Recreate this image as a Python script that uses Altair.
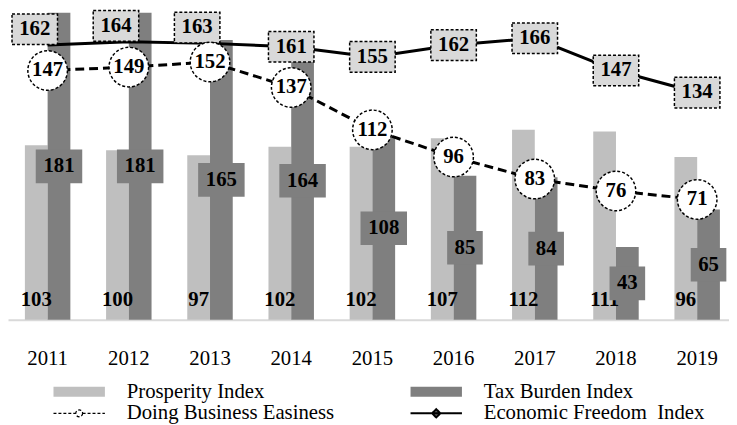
import altair as alt
import pandas as pd

years = ["2011", "2012", "2013", "2014", "2015", "2016", "2017", "2018", "2019"]
prosperity = [103, 100, 97, 102, 102, 107, 112, 111, 96]
tax_burden = [181, 181, 165, 164, 108, 85, 84, 43, 65]
doing_business = [147, 149, 152, 137, 112, 96, 83, 76, 71]
econ_freedom = [162, 164, 163, 161, 155, 162, 166, 147, 134]

P = "Prosperity Index"
T = "Tax Burden Index"
D = "Doing Business Easiness"
E = "Economic Freedom\u00a0 Index"
series_order = [P, T, D, E]
top_years = ["2011", "2012", "2013"]

FONT = "Liberation Serif"
LIGHT = "#bfbfbf"
DARK = "#7f7f7f"
BOXFILL = "#d9d9d9"

bars_df = pd.DataFrame(
    {"year": years * 2,
     "series": [P] * len(years) + [T] * len(years),
     "value": prosperity + tax_burden}
)
pros_df = pd.DataFrame({"year": years, "series": P, "value": prosperity})
tax_df = pd.DataFrame({"year": years, "series": T, "value": tax_burden})
tax_df["half"] = tax_df["value"] / 2
tax_df["box"] = [
    ("M-23.5,-17H23.5V17H-23.5Z" if len(str(v)) >= 3 else "M-18,-17H18V17H-18Z")
    for v in tax_burden
]
doing_df = pd.DataFrame({"year": years, "value": doing_business})
econ_df = pd.DataFrame({"year": years, "value": econ_freedom})

x_scale = alt.Scale(domain=years, paddingInner=0.44, paddingOuter=0.16, align=0.65)
y_scale = alt.Scale(domain=[0, 182.5], nice=False, zero=True)
off_scale = alt.Scale(domain=[P, T], paddingInner=0, paddingOuter=0)

x_axis = alt.Axis(
    title=None, ticks=False, tickSize=0, labelPadding=28, labelFont=FONT,
    labelFontSize=21, labelColor="black", domainColor="#d9d9d9", domainWidth=2,
    labelAngle=0, grid=False,
)

shape_sig = (
    "datum.index < 2 ? 'M-1,-0.476H3.95V0.476H-1Z' : "
    "datum.index == 2 ? 'M-1,0H1.145M1.805,0H3.95M1.805,0A0.33,0.33 0 1,1 1.145,0A0.33,0.33 0 1,1 1.805,0' : "
    "'M-1,0H3.95M1.475,-0.4L1.875,0L1.475,0.4L1.075,0Z'"
)
stroke_sig = "datum.index < 2 ? 'transparent' : 'black'"
sw_sig = "datum.index < 2 ? 0 : (datum.index == 2 ? 1.3 : 2)"
dash_sig = "datum.index == 2 ? [3, 2] : [1, 0]"

legend = alt.Legend(
    orient="none", legendX=46, legendY=375, direction="horizontal", columns=2,
    columnPadding=73, rowPadding=0, symbolSize=441, labelOffset=53, labelFont=FONT,
    labelFontSize=21, labelColor="black", labelLimit=500, title=None, padding=0,
    symbolType=alt.ExprRef(shape_sig),
    symbolStrokeColor=alt.ExprRef(stroke_sig),
    symbolStrokeWidth=alt.ExprRef(sw_sig),
    symbolDash=alt.ExprRef(dash_sig),
    symbolOpacity=1,
)

bars = alt.Chart(bars_df).mark_bar().encode(
    x=alt.X("year:N", scale=x_scale, axis=x_axis, sort=years),
    xOffset=alt.XOffset("series:N", scale=off_scale),
    y=alt.Y("value:Q", scale=y_scale, axis=None),
    color=alt.Color("series:N", scale=alt.Scale(domain=series_order,
                                                  range=[LIGHT, DARK, "white", "#595959"]),
                    legend=legend),
)

label_font = dict(font=FONT, fontSize=21, fontWeight="bold", color="black")

pros_labels = alt.Chart(pros_df).mark_text(baseline="middle", align="center", dy=-20, **label_font).encode(
    x=alt.X("year:N", scale=x_scale, sort=years),
    xOffset=alt.XOffset("series:N", scale=off_scale),
    y=alt.datum(0, scale=y_scale),
    text=alt.Text("value:Q"),
)

tax_boxes = alt.Chart(tax_df).mark_point(size=4, filled=True, fill=DARK, strokeWidth=0, opacity=1).encode(
    x=alt.X("year:N", scale=x_scale, sort=years),
    xOffset=alt.XOffset("series:N", scale=off_scale),
    y=alt.Y("half:Q", scale=y_scale),
    shape=alt.Shape("box:N", scale=None),
)
tax_labels = alt.Chart(tax_df).mark_text(baseline="middle", align="center", **label_font).encode(
    x=alt.X("year:N", scale=x_scale, sort=years),
    xOffset=alt.XOffset("series:N", scale=off_scale),
    y=alt.Y("half:Q", scale=y_scale),
    text=alt.Text("value:Q"),
)

econ_line = alt.Chart(econ_df).mark_line(color="black", strokeWidth=3).encode(
    x=alt.X("year:N", scale=x_scale, sort=years),
    y=alt.Y("value:Q", scale=y_scale),
)
doing_line = alt.Chart(doing_df).mark_line(color="black", strokeWidth=3, strokeDash=[9, 5]).encode(
    x=alt.X("year:N", scale=x_scale, sort=years),
    y=alt.Y("value:Q", scale=y_scale),
)

ECON_BOX = "M-23,-15.5H23V15.5H-23Z"
box_style = dict(shape=ECON_BOX, size=4, filled=True, fill=BOXFILL, stroke="black",
                 strokeWidth=1.5, strokeDash=[3, 2], opacity=1)

econ_enc = dict(
    x=alt.X("year:N", scale=x_scale, sort=years),
    y=alt.Y("value:Q", scale=y_scale),
)
is_top = alt.FieldOneOfPredicate(field="year", oneOf=top_years)

econ_boxes_top = alt.Chart(econ_df).transform_filter(is_top).mark_point(
    xOffset=-13, yOffset=-16, **box_style).encode(**econ_enc)
econ_labels_top = alt.Chart(econ_df).transform_filter(is_top).mark_text(
    baseline="middle", align="center", dx=-13, dy=-16, **label_font).encode(
    text=alt.Text("value:Q"), **econ_enc)
econ_boxes = alt.Chart(econ_df).transform_filter(~is_top).mark_point(**box_style).encode(**econ_enc)
econ_labels = alt.Chart(econ_df).transform_filter(~is_top).mark_text(
    baseline="middle", align="center", **label_font).encode(
    text=alt.Text("value:Q"), **econ_enc)

doing_circles = alt.Chart(doing_df).mark_point(
    shape="circle", size=1600, filled=True, fill="white", stroke="black",
    strokeWidth=1.5, strokeDash=[3, 2], opacity=1).encode(
    x=alt.X("year:N", scale=x_scale, sort=years),
    y=alt.Y("value:Q", scale=y_scale),
)
doing_labels = alt.Chart(doing_df).mark_text(baseline="middle", align="center", **label_font).encode(
    x=alt.X("year:N", scale=x_scale, sort=years),
    y=alt.Y("value:Q", scale=y_scale),
    text=alt.Text("value:Q"),
)

chart = alt.layer(
    bars, pros_labels, tax_boxes, tax_labels, econ_line, doing_line,
    econ_boxes_top, econ_labels_top, econ_boxes, econ_labels,
    doing_circles, doing_labels,
).properties(
    width=729, height=313,
    padding={"left": 0, "top": 0, "right": 0, "bottom": 104},
    autosize=alt.AutoSizeParams(type="none"),
    background="white",
).configure_view(stroke=None).configure_legend(labelFont=FONT)

chart.save("out.html", embed_options={"renderer": "svg", "actions": False})
